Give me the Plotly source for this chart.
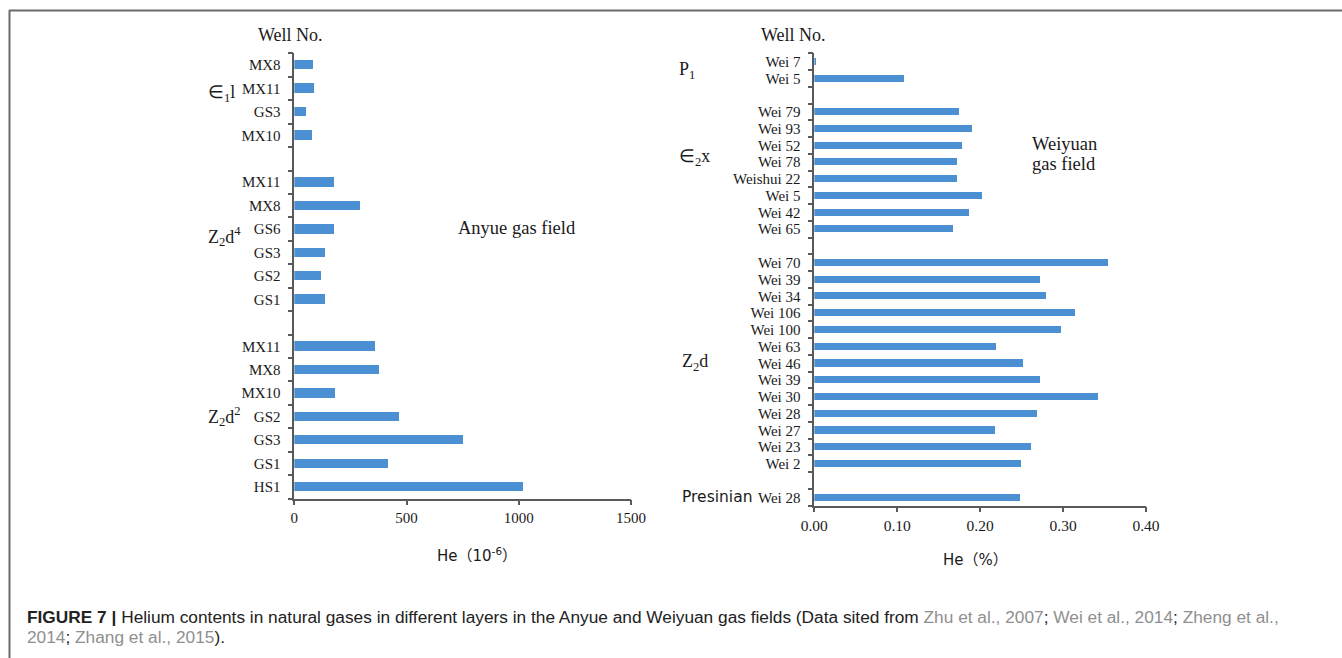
import plotly.graph_objects as go

# ---- Anyue gas field: He (10^-6), listed top to bottom within each layer ----
anyue_layers = ["∈<sub>1</sub>l", "Z<sub>2</sub>d<sup>4</sup>", "Z<sub>2</sub>d<sup>2</sup>"]
anyue_wells_l1 = ["MX8", "MX11", "GS3", "MX10"]
anyue_he_l1 = [86, 89, 55, 82]
anyue_wells_z2d4 = ["MX11", "MX8", "GS6", "GS3", "GS2", "GS1"]
anyue_he_z2d4 = [180, 292, 177, 138, 119, 137]
anyue_wells_z2d2 = ["MX11", "MX8", "MX10", "GS2", "GS3", "GS1", "HS1"]
anyue_he_z2d2 = [361, 377, 181, 467, 754, 418, 1019]

# ---- Weiyuan gas field: He (%), listed top to bottom within each layer ----
weiyuan_layers = ["P<sub>1</sub>", "∈<sub>2</sub>x", "Z<sub>2</sub>d", "Presinian"]
weiyuan_wells_p1 = ["Wei 7", "Wei 5"]
weiyuan_he_p1 = [0.003, 0.109]
weiyuan_wells_e2x = ["Wei 79", "Wei 93", "Wei 52", "Wei 78", "Weishui 22", "Wei 5", "Wei 42", "Wei 65"]
weiyuan_he_e2x = [0.175, 0.191, 0.179, 0.173, 0.173, 0.203, 0.187, 0.168]
weiyuan_wells_z2d = ["Wei 70", "Wei 39", "Wei 34", "Wei 106", "Wei 100", "Wei 63", "Wei 46",
                     "Wei 39", "Wei 30", "Wei 28", "Wei 27", "Wei 23", "Wei 2"]
weiyuan_he_z2d = [0.355, 0.273, 0.280, 0.315, 0.298, 0.220, 0.252,
                  0.273, 0.342, 0.269, 0.218, 0.262, 0.250]
weiyuan_wells_pre = ["Wei 28"]
weiyuan_he_pre = [0.248]

anyue_ticks = [0, 500, 1000, 1500]
weiyuan_ticks = [0.0, 0.1, 0.2, 0.3, 0.4]

W, H = 1342, 658
BAR = "#4A90D2"
AXIS = "#5a5a5a"
SERIF = "Liberation Serif, Times New Roman, serif"
SANS = "DejaVu Sans, Noto Sans CJK SC, sans-serif"


def px_x(v):
    return v / W


def px_y(v):
    return 1 - v / H


def stack_groups(groups):
    """Place groups one below another with one empty row between them."""
    pos, names, vals = [], [], []
    row = 0
    for wells, he in groups:
        pos += list(range(row, row + len(wells)))
        names += wells
        vals += he
        row += len(wells) + 1
    return pos, names, vals, row - 1


a_pos, a_names, a_vals, a_n = stack_groups([
    (anyue_wells_l1, anyue_he_l1),
    (anyue_wells_z2d4, anyue_he_z2d4),
    (anyue_wells_z2d2, anyue_he_z2d2),
])
w_pos, w_names, w_vals, w_n = stack_groups([
    (weiyuan_wells_p1, weiyuan_he_p1),
    (weiyuan_wells_e2x, weiyuan_he_e2x),
    (weiyuan_wells_z2d, weiyuan_he_z2d),
    (weiyuan_wells_pre, weiyuan_he_pre),
])

fig = go.Figure()
fig.add_trace(go.Bar(orientation="h", x=a_vals, y=a_pos, width=0.4,
                     marker=dict(color=BAR, line=dict(width=0)),
                     xaxis="x", yaxis="y", showlegend=False))
fig.add_trace(go.Bar(orientation="h", x=w_vals, y=w_pos, width=0.42,
                     marker=dict(color=BAR, line=dict(width=0)),
                     xaxis="x2", yaxis="y2", showlegend=False))


def yaxis(n, pos, names, domain, anchor):
    return dict(
        domain=domain, anchor=anchor, range=[n - 0.5, -0.5],
        tickmode="array", tickvals=pos, ticktext=names,
        ticks="", showgrid=False, zeroline=False,
        showline=True, linecolor=AXIS, linewidth=1.5,
        tickfont=dict(family=SERIF, size=15, color="#1a1a1a"),
        ticklabelstandoff=9, automargin=False,
        minor=dict(tickmode="array", tickvals=[k - 0.5 for k in range(n + 1)],
                   ticks="outside", ticklen=5, tickwidth=1.5, tickcolor=AXIS,
                   showgrid=False),
    )


def xaxis(rng, ticks, fmt, domain, anchor, size):
    return dict(
        domain=domain, anchor=anchor, range=rng,
        tickmode="array", tickvals=ticks, tickformat=fmt,
        ticks="outside", ticklen=5, tickwidth=1.5, tickcolor=AXIS,
        showline=True, linecolor=AXIS, linewidth=1.5,
        showgrid=False, zeroline=False, automargin=False,
        tickfont=dict(family=SERIF, size=size, color="#1a1a1a"),
    )


ann = []


def text(x, y, s, size=18, family=SERIF, xanchor="center", color="#1a1a1a"):
    ann.append(dict(x=px_x(x), y=px_y(y), xref="paper", yref="paper", text=s,
                    showarrow=False, xanchor=xanchor, yanchor="middle",
                    font=dict(family=family, size=size, color=color)))


# headings and in-plot labels
text(290, 35, "Well No.")
text(793, 35, "Well No.")
text(456, 228, "Anyue gas field", size=18.5, xanchor="left")
text(1064, 144, "Weiyuan", size=18.5)
text(1064, 164, "gas field", size=18.5)

# layer labels
text(206, 94, anyue_layers[0], xanchor="left")
text(206, 237, anyue_layers[1], xanchor="left")
text(206, 416, anyue_layers[2], xanchor="left")
text(677, 71, weiyuan_layers[0], xanchor="left")
text(677, 157, weiyuan_layers[1], xanchor="left")
text(680, 362, weiyuan_layers[2], xanchor="left")
text(680, 497, weiyuan_layers[3], size=15.5, family=SANS, xanchor="left")

# axis titles
text(477, 555, "He（10<sup>-6</sup>）", size=15, family=SANS)
text(975, 560, "He（%）", size=15, family=SANS)

# caption
GREY = "#8f8f8f"
CAP = "Liberation Sans, Arial, sans-serif"
line1 = ("<b>FIGURE 7 |</b> Helium contents in natural gases in different layers in the Anyue and "
         "Weiyuan gas fields (Data sited from "
         f"<span style='color:{GREY}'>Zhu et al., 2007</span>; "
         f"<span style='color:{GREY}'>Wei et al., 2014</span>; "
         f"<span style='color:{GREY}'>Zheng et al.,</span>")
line2 = (f"<span style='color:{GREY}'>2014</span>; "
         f"<span style='color:{GREY}'>Zhang et al., 2015</span>).")
text(25, 617, line1, size=17.3, family=CAP, xanchor="left", color="#222222")
text(25, 637, line2, size=17.3, family=CAP, xanchor="left", color="#222222")

# outer frame (top and left rules)
shapes = [
    dict(type="line", xref="paper", yref="paper", x0=px_x(9), x1=1, y0=px_y(10.5), y1=px_y(10.5),
         line=dict(color="#6b6b6b", width=2)),
    dict(type="line", xref="paper", yref="paper", x0=px_x(9.5), x1=px_x(9.5), y0=0, y1=px_y(10),
         line=dict(color="#6b6b6b", width=2)),
]

fig.update_layout(
    width=W, height=H, margin=dict(l=0, r=0, t=0, b=0),
    paper_bgcolor="white", plot_bgcolor="white",
    bargap=0,
    xaxis=xaxis([0, 1500], anyue_ticks, "d", [px_x(294.3), px_x(631)], "y", 15),
    yaxis=yaxis(a_n, a_pos, a_names, [px_y(498.7), px_y(53.3)], "x"),
    xaxis2=xaxis([0, 0.4], weiyuan_ticks, ".2f", [px_x(814.3), px_x(1146)], "y2", 15.5),
    yaxis2=yaxis(w_n, w_pos, w_names, [px_y(505.7), px_y(53.3)], "x2"),
    annotations=ann, shapes=shapes,
)

fig.write_html("out.html")
